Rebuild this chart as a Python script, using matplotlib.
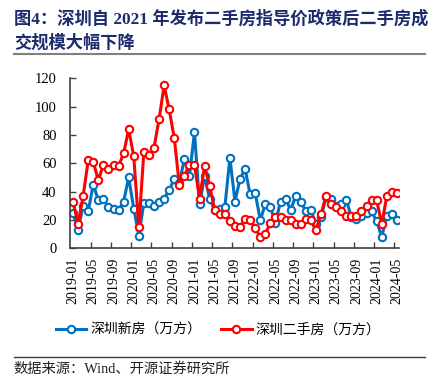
import matplotlib
matplotlib.use("Agg")
import matplotlib.pyplot as plt
from matplotlib.lines import Line2D
import pandas as pd

# Monthly data 2019-01 .. 2024-05 (万方)
months = pd.date_range("2019-01", "2024-05", freq="MS").strftime("%Y-%m").tolist()

new_home = [25, 13, 30, 26, 45, 34, 35, 29, 28, 27, 33, 50,
            28, 9, 32, 32, 30, 33, 35, 41, 49, 46, 63, 51,
            82, 31, 51, 35, 27, 28, 29, 64, 33, 49, 56, 38,
            39, 20, 31, 29, 18, 33, 35, 27, 37, 33, 26, 27,
            17, 22, 36, 35, 30, 31, 34, 22, 21, 23, 25, 26,
            19, 8, 23, 24, 20]

second_hand = [33, 17, 37, 62, 61, 48, 59, 56, 59, 58, 67, 84,
               65, 15, 68, 66, 71, 91, 115, 98, 78, 45, 51, 59,
               59, 35, 58, 44, 27, 24, 24, 19, 16, 15, 21, 20,
               14, 8, 10, 18, 22, 22, 20, 20, 17, 17, 21, 20,
               13, 24, 37, 31, 29, 26, 23, 23, 23, 26, 30, 34,
               34, 17, 37, 40, 39]

label_new = "深圳新房（万方）"
label_old = "深圳二手房（万方）"

serif_cjk = ["Liberation Serif", "Noto Sans CJK SC"]
plt.rcParams["font.family"] = serif_cjk

fig = plt.figure(figsize=(4.34, 3.82), dpi=100)
ax = fig.add_axes([0.1624, 0.35, 0.758, 0.445])

x = list(range(len(months)))
style = dict(lw=2.2, marker="o", markersize=5.3, markerfacecolor="white",
             markeredgewidth=1.5)
ax.plot(x, new_home, color="#0070C0", label=label_new, **style)
ax.plot(x, second_hand, color="#FF0000", label=label_old, **style)

ax.set_xlim(-0.5, len(months) - 0.5)
ax.set_ylim(0, 120)
ax.set_yticks(range(0, 121, 20))

ax.set_xticks(x[::4])
ax.set_xticklabels(months[::4], rotation=90)
ax.set_xticks([i + 3.5 for i in range(0, len(months) - 4, 4)], minor=True)
ax.tick_params(axis="x", which="major", length=0, pad=7, labelsize=10)
ax.tick_params(axis="x", which="minor", direction="in", length=4, width=1,
               color="#404040")
ax.tick_params(axis="y", direction="in", length=4, width=1, pad=10,
               labelsize=10.5, color="#404040")

for s in ["top", "right"]:
    ax.spines[s].set_visible(False)
for s in ["left", "bottom"]:
    ax.spines[s].set_color("#404040")
    ax.spines[s].set_linewidth(1.2)

fig.legend(loc="center", bbox_to_anchor=(0.503, 0.136), ncol=2,
           frameon=False, fontsize=10, handlelength=2.2, columnspacing=1.4,
           handletextpad=0.3)

title_color = "#1c2a6e"
fig.text(0.032, 0.950, "图4：深圳自 2021 年发布二手房指导价政策后二手房成",
         fontsize=12.4, fontweight="bold", color=title_color, va="center")
fig.text(0.032, 0.887, "交规模大幅下降",
         fontsize=12.4, fontweight="bold", color=title_color, va="center")
fig.add_artist(Line2D([0.032, 0.979], [0.8586, 0.8586], color="#808080", lw=1.5))

fig.add_artist(Line2D([0.032, 0.979], [0.0654, 0.0654], color="#404040", lw=1))
fig.text(0.032, 0.034, "数据来源：Wind、开源证券研究所", fontsize=10.3,
         color="#202020", va="center")

plt.savefig("out.png", dpi=100)
print("Saved: out.png")
